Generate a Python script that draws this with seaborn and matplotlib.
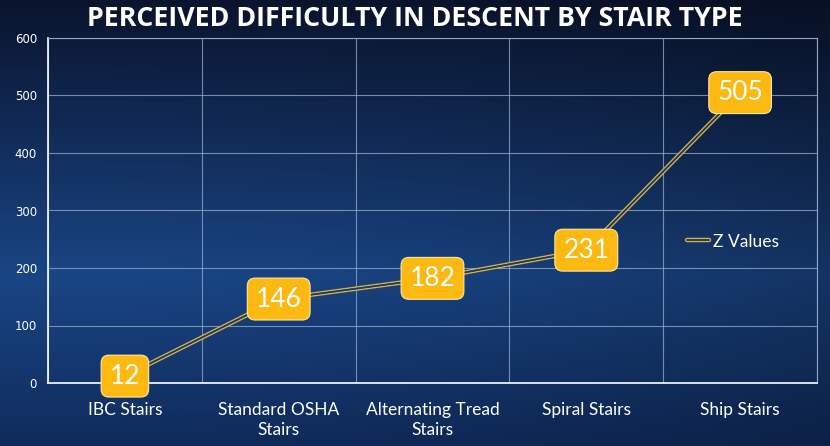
import numpy as np
import seaborn as sns
import matplotlib.pyplot as plt
import matplotlib.patheffects as pe

categories = ["IBC Stairs", "Standard OSHA\nStairs", "Alternating Tread\nStairs",
              "Spiral Stairs", "Ship Stairs"]
z_values = [12, 146, 182, 231, 505]
y_ticks = [0, 100, 200, 300, 400, 500, 600]

sns.set_style("white")
plt.rcParams['font.family'] = ['Lato', 'DejaVu Sans']

fig = plt.figure(figsize=(8.3, 4.46), dpi=100)

# background gradient
bg = fig.add_axes([0, 0, 1, 1])
yy = np.linspace(0, 1, 300)[:, None]
xx = np.linspace(0, 1, 400)[None, :]
top = np.array([0.04, 0.08, 0.18])
mid = np.array([0.10, 0.27, 0.52])
bot = np.array([0.06, 0.17, 0.36])
t = np.clip(yy / 0.62, 0, 1)
col = top * (1 - t[..., None]) + mid * t[..., None]
t2 = np.clip((yy - 0.62) / 0.38, 0, 1)
col = col * (1 - t2[..., None]) + bot * t2[..., None]
shade = 1 - 0.25 * (xx ** 2)
img = col * shade[..., None]
bg.imshow(img, aspect='auto', extent=[0, 1, 0, 1], origin='upper')
bg.axis('off')

ax = fig.add_axes([48 / 830, 1 - 383 / 446, (817 - 48) / 830, (383 - 38) / 446])
ax.patch.set_alpha(0)

sns.lineplot(x=list(range(len(categories))), y=z_values, ax=ax, color='#1A3A6E',
             lw=1.1, label='Z Values',
             path_effects=[pe.Stroke(linewidth=3.2, foreground='#D9B23E'),
                           pe.Stroke(linewidth=1.1, foreground='#1A3A6E'), pe.Normal()])

for i, v in enumerate(z_values):
    ax.text(i, v, str(v), ha='center', va='center', fontsize=19, color='white',
            bbox=dict(boxstyle='round,pad=0.32,rounding_size=0.3', fc='#FBB912',
                      ec='#FFE9A0', lw=0.8), zorder=5)

ax.set_xlim(-0.5, len(categories) - 0.5)
ax.set_ylim(0, 600)
ax.set_yticks(y_ticks)
ax.set_xticks(range(len(categories)))
ax.set_xticklabels(categories, color='white', fontsize=12.5, linespacing=1.25)
ax.tick_params(axis='y', colors='white', labelsize=8.5, length=0, pad=8)
ax.tick_params(axis='x', length=0, pad=14)
for lbl in ax.get_yticklabels():
    lbl.set_fontfamily('DejaVu Sans')

ax.grid(axis='y', color='#8FA6C8', lw=0.8, alpha=0.8)
ax.set_xticks(np.arange(-0.5, len(categories), 1), minor=True)
ax.grid(axis='x', which='minor', color='#8FA6C8', lw=0.8, alpha=0.8)
ax.grid(axis='x', which='major', visible=False)
ax.tick_params(which='minor', length=0)
for s in ['top', 'right']:
    ax.spines[s].set_color('#8FA6C8')
    ax.spines[s].set_linewidth(0.8)
for s in ['left', 'bottom']:
    ax.spines[s].set_color('white')
    ax.spines[s].set_linewidth(1.2)

leg = ax.legend(loc='center left', bbox_to_anchor=(0.81, 0.41), frameon=False,
                fontsize=12.5, handlelength=1.3, handletextpad=0.2)
for txt in leg.get_texts():
    txt.set_color('white')

fig.text(0.5, 0.958, 'PERCEIVED DIFFICULTY IN DESCENT BY STAIR TYPE', ha='center',
         va='center', color='white', fontsize=19.3, fontweight='bold',
         family=['Open Sans', 'DejaVu Sans'])

fig.savefig('out.png', dpi=100)
